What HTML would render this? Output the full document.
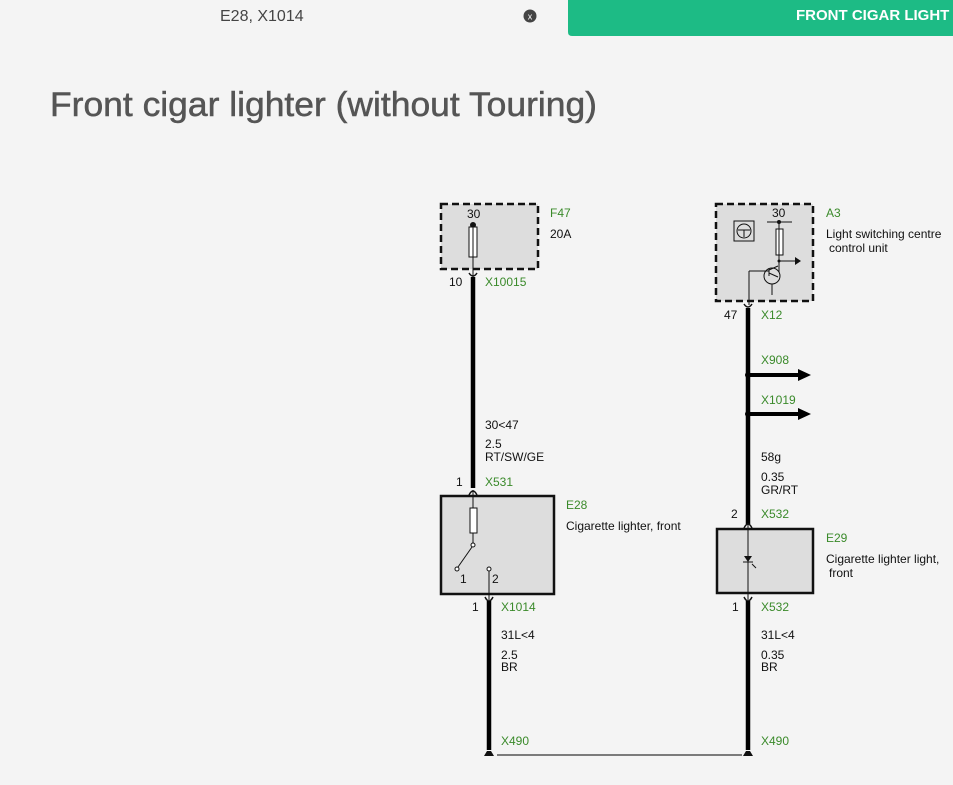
<!DOCTYPE html>
<html><head><style>
body{margin:0;background:#f4f4f4;width:953px;height:785px;overflow:hidden;font-family:"Liberation Sans",sans-serif;}
</style></head><body>
<svg width="953" height="785" xmlns="http://www.w3.org/2000/svg" style="position:absolute;left:0;top:0">
<rect width="953" height="785" fill="#f4f4f4"/>
<text x="220" y="21" font-size="16" fill="#444" font-family="Liberation Sans Narrow, Liberation Sans, sans-serif">E28, X1014</text>
<circle cx="530" cy="16" r="6.5" fill="#444"/>
<text x="530" y="19.5" font-size="9" fill="#fff" text-anchor="middle">x</text>
<path d="M568 0H953V36H572Q568 36 568 32Z" fill="#1dbb85"/>
<text x="796" y="20" font-size="15" font-weight="bold" fill="#fff">FRONT CIGAR LIGHT</text>
<text x="50" y="116" font-size="34" fill="#555" stroke="#555" stroke-width="0.5" textLength="547" lengthAdjust="spacingAndGlyphs">Front cigar lighter (without Touring)</text>

<g font-size="12" fill="#111">
<!-- F47 -->
<rect x="441" y="204" width="97" height="65" fill="#ddd" stroke="#111" stroke-width="2.5" stroke-dasharray="7,4"/>
<text x="467" y="218" >30</text>
<circle cx="473" cy="225" r="3" fill="#111"/>
<rect x="469" y="227" width="8" height="30" fill="#fff" stroke="#111"/>
<line x1="473" y1="225" x2="473" y2="278" stroke="#111"/>
<text x="550" y="217" fill="#3a8a2a">F47</text>
<text x="550" y="238">20A</text>
<text x="449" y="286">10</text>
<text x="485" y="286" fill="#3a8a2a">X10015</text>
<path d="M469 273q4 6 8 0" fill="none" stroke="#111" stroke-width="1.5"/>
<line x1="473" y1="277" x2="473" y2="488" stroke="#000" stroke-width="4.5"/>
<text x="485" y="429">30&lt;47</text>
<text x="485" y="448">2.5</text>
<text x="485" y="461">RT/SW/GE</text>
<text x="456" y="486">1</text>
<text x="485" y="486" fill="#3a8a2a">X531</text>
<path d="M469 495q4-8 8 0" fill="none" stroke="#111" stroke-width="1.5"/>
<!-- E28 -->
<rect x="441" y="496" width="113" height="98" fill="#ddd" stroke="#111" stroke-width="2.5"/>
<line x1="473" y1="490" x2="473" y2="544" stroke="#111"/>
<rect x="470" y="508" width="7" height="25" fill="#fff" stroke="#111"/>
<circle cx="473" cy="545" r="2" fill="#fff" stroke="#111"/>
<line x1="472" y1="547" x2="458" y2="567" stroke="#111"/>
<circle cx="457" cy="569" r="2" fill="#fff" stroke="#111"/>
<circle cx="489" cy="569" r="2" fill="#fff" stroke="#111"/>
<line x1="489" y1="571" x2="489" y2="600" stroke="#111"/>
<text x="460" y="583">1</text>
<text x="492" y="583">2</text>
<text x="566" y="509" fill="#3a8a2a">E28</text>
<text x="566" y="530">Cigarette lighter, front</text>
<path d="M485 597q4 8 8 0" fill="none" stroke="#111" stroke-width="1.5"/>
<line x1="489" y1="601" x2="489" y2="750" stroke="#000" stroke-width="4.5"/>
<text x="472" y="611">1</text>
<text x="501" y="611" fill="#3a8a2a">X1014</text>
<text x="501" y="639">31L&lt;4</text>
<text x="501" y="659">2.5</text>
<text x="501" y="671">BR</text>
<text x="501" y="745" fill="#3a8a2a">X490</text>
<path d="M484 756l3-5h4l3 5z" fill="#111"/>
<!-- A3 -->
<rect x="716" y="204" width="97" height="97" fill="#ddd" stroke="#111" stroke-width="2.5" stroke-dasharray="7,4"/>
<rect x="734" y="221" width="20" height="20" fill="none" stroke="#111"/>
<circle cx="744" cy="231" r="7" fill="none" stroke="#111"/>
<path d="M738 230h12M744 230v7" stroke="#111" fill="none"/>
<text x="772" y="217">30</text>
<line x1="767" y1="222" x2="792" y2="222" stroke="#111"/>
<circle cx="779" cy="222" r="2" fill="#111"/>
<rect x="776" y="229" width="7" height="26" fill="#fff" stroke="#111"/>
<line x1="779" y1="222" x2="779" y2="272" stroke="#111"/>
<circle cx="779" cy="261" r="1.5" fill="#111"/>
<line x1="779" y1="261" x2="795" y2="261" stroke="#111"/>
<path d="M795 257l6 4-6 4z" fill="#111"/>
<circle cx="772" cy="276" r="8" fill="none" stroke="#111"/>
<path d="M766 271h3M769 268v8M769 270l9-4M769 273l9 4" stroke="#111" fill="none"/>
<line x1="772" y1="284" x2="772" y2="295" stroke="#111"/>
<line x1="749" y1="271" x2="766" y2="271" stroke="#111"/>
<line x1="749" y1="271" x2="749" y2="305" stroke="#111"/>
<text x="826" y="217" fill="#3a8a2a">A3</text>
<text x="826" y="238">Light switching centre</text>
<text x="829" y="252">control unit</text>
<path d="M744 304q4 6 8 0" fill="none" stroke="#111" stroke-width="1.5"/>
<line x1="748" y1="308" x2="748" y2="524" stroke="#000" stroke-width="4.5"/>
<text x="724" y="319">47</text>
<text x="761" y="319" fill="#3a8a2a">X12</text>
<text x="761" y="364" fill="#3a8a2a">X908</text>
<circle cx="748" cy="375" r="3" fill="#000"/>
<line x1="748" y1="375" x2="800" y2="375" stroke="#000" stroke-width="4"/>
<path d="M798 369l13 6-13 6z" fill="#000"/>
<text x="761" y="404" fill="#3a8a2a">X1019</text>
<circle cx="748" cy="414" r="3" fill="#000"/>
<line x1="748" y1="414" x2="800" y2="414" stroke="#000" stroke-width="4"/>
<path d="M798 408l13 6-13 6z" fill="#000"/>
<text x="761" y="461">58g</text>
<text x="761" y="481">0.35</text>
<text x="761" y="494">GR/RT</text>
<text x="731" y="518">2</text>
<text x="761" y="518" fill="#3a8a2a">X532</text>
<path d="M744 528q4-8 8 0" fill="none" stroke="#111" stroke-width="1.5"/>
<!-- E29 -->
<rect x="717" y="529" width="96" height="64" fill="#ddd" stroke="#111" stroke-width="2.5"/>
<line x1="748" y1="524" x2="748" y2="600" stroke="#111"/>
<path d="M744 556h8l-4 6z" fill="#111"/>
<line x1="743" y1="562" x2="753" y2="562" stroke="#111"/>
<line x1="752" y1="564" x2="756" y2="568" stroke="#111"/>
<text x="826" y="542" fill="#3a8a2a">E29</text>
<text x="826" y="563">Cigarette lighter light,</text>
<text x="829" y="577">front</text>
<path d="M744 597q4 8 8 0" fill="none" stroke="#111" stroke-width="1.5"/>
<line x1="748" y1="601" x2="748" y2="750" stroke="#000" stroke-width="4.5"/>
<text x="732" y="611">1</text>
<text x="761" y="611" fill="#3a8a2a">X532</text>
<text x="761" y="639">31L&lt;4</text>
<text x="761" y="659">0.35</text>
<text x="761" y="671">BR</text>
<text x="761" y="745" fill="#3a8a2a">X490</text>
<path d="M743 756l3-5h4l3 5z" fill="#111"/>
<line x1="497" y1="755" x2="742" y2="755" stroke="#333" stroke-width="1.2"/>
</g>
</svg>
</body></html>
